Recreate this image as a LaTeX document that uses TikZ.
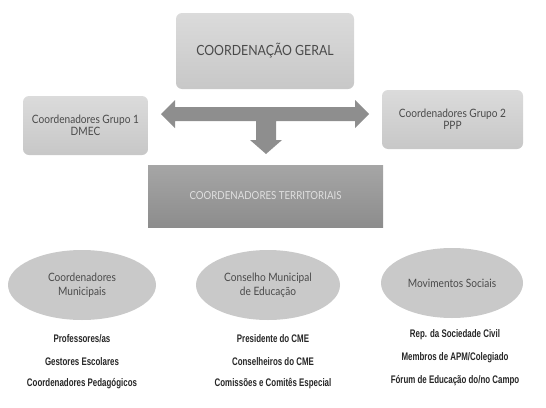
\documentclass[tikz,border=0pt]{standalone}
\usepackage{fontspec}
\setmainfont{Lato}[FakeStretch=0.88]
\newfontfamily\narrowbold[FakeStretch=0.72]{Liberation Sans}
\usetikzlibrary{shapes.geometric,positioning}
\definecolor{boxlight}{HTML}{D2D2D2}
\definecolor{boxdark}{HTML}{9C9C9C}
\definecolor{arrowgray}{HTML}{8E8E8E}
\definecolor{ellgray}{HTML}{C9C9C9}
\definecolor{txtgray}{HTML}{4A4A4A}
\tikzset{
  lightbox/.style={rectangle, rounded corners=6pt, top color=boxlight!80!white, bottom color=boxlight!95!black, draw=none, text=txtgray, align=center, font=\fontsize{11.5}{12.5}\selectfont, inner sep=0pt},
  darkbox/.style={rectangle, top color=boxdark!90!white, bottom color=boxdark!90!black, draw=none, text=white!88!black, align=center, font=\fontsize{11}{12}\selectfont, inner sep=0pt},
  ellnode/.style={ellipse, fill=ellgray, draw=none, text=txtgray, align=center, font=\fontsize{11.5}{14}\selectfont, inner sep=0pt},
  listtxt/.style={text=black!85, font=\narrowbold\bfseries\fontsize{11}{12}\selectfont, anchor=center, inner sep=0pt},
  bigarrow/.style={fill=arrowgray, draw=none}
}
\begin{document}
\begin{tikzpicture}[x=1pt,y=-1pt]
\useasboundingbox (0,0) rectangle (546,407);
% top boxes
\node[lightbox, minimum width=178, minimum height=76, font=\fontsize{14}{15}\selectfont] (geral) at (265,51) {COORDENAÇÃO GERAL};
\node[lightbox, minimum width=125, minimum height=59] (g1) at (85.5,125.5) {Coordenadores Grupo 1\\DMEC};
\node[lightbox, minimum width=141, minimum height=59] (g2) at (452.5,119.5) {Coordenadores Grupo 2\\PPP};
\node[darkbox, minimum width=235, minimum height=62] (terr) at (265.5,196) {COORDENADORES TERRITORIAIS};
% arrows
\coordinate (la) at (161,114);
\coordinate (ra) at (369,114);
\coordinate (da) at (266,154);
\fill[bigarrow] (la) -- ++(14,-14) -- ++(0,7) -- (256,107) -- (355,107) -- ++(0,-7) -- (ra) -- (355,128) -- ++(0,-7) -- (276,121) -- (276,140) -- (282,140) -- (da) -- (250,140) -- (256,140) -- (256,121) -- (175,121) -- (175,128) -- cycle;
% ellipses
\node[ellnode, minimum width=148, minimum height=70] (e1) at (82,285) {Coordenadores\\Municipais};
\node[ellnode, minimum width=144, minimum height=70] (e2) at (268,285) {Conselho Municipal\\de Educação};
\node[ellnode, minimum width=142, minimum height=70] (e3) at (452,283) {Movimentos Sociais};
% lists
\node[listtxt] (l11) at (82,339) {Professores/as};
\node[listtxt] (l12) at (82,362) {Gestores Escolares};
\node[listtxt] (l13) at (82,384) {Coordenadores Pedagógicos};
\node[listtxt] (l21) at (273,339) {Presidente do CME};
\node[listtxt] (l22) at (273,362) {Conselheiros do CME};
\node[listtxt] (l23) at (273,384) {Comissões e Comitês Especial};
\node[listtxt] (l31) at (455,335) {Rep. da Sociedade Civil};
\node[listtxt] (l32) at (455,358) {Membros de APM/Colegiado};
\node[listtxt] (l33) at (455,381) {Fórum de Educação do/no Campo};
\end{tikzpicture}
\end{document}
